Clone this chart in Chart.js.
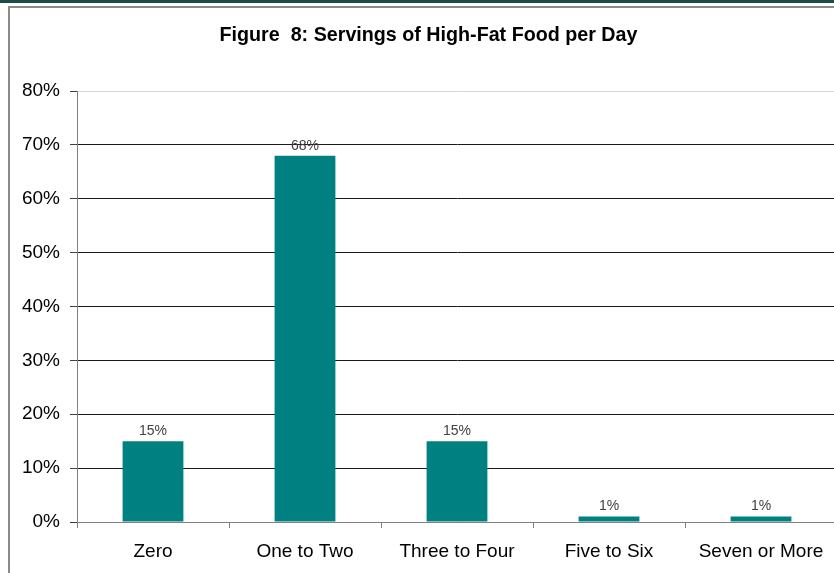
<!DOCTYPE html>
<html>
<head>
<meta charset="utf-8">
<script src="https://cdn.jsdelivr.net/npm/chart.js@4/dist/chart.umd.min.js"></script>
<style>
  html, body { margin: 0; padding: 0; background: #fff; overflow: hidden; }
  #frame { position: relative; width: 834px; height: 573px; overflow: hidden; }
  #topBar { position: absolute; left: 0; top: 0; width: 834px; height: 3px; background: #1f4a49; }
  #box { position: absolute; left: 8px; top: 6px; width: 830px; height: 570px;
         border-top: 2px solid #8a8a8a; border-left: 2px solid #8a8a8a; }
  #wrap { position: absolute; left: 0; top: 0; width: 837px; height: 573px; }
</style>
</head>
<body>
<div id="frame">
  <div id="box"></div>
  <div id="wrap"><canvas id="myBarChart" width="837" height="573"></canvas></div>
  <div id="topBar"></div>
</div>
<script>
// Data
let categories = ['Zero', 'One to Two', 'Three to Four', 'Five to Six', 'Seven or More'];
let percentages = [15, 68, 15, 1, 1];
let yTicks = [0, 10, 20, 30, 40, 50, 60, 70, 80];

let titleText = 'Figure  8: Servings of High-Fat Food per Day';

// draws the % value above each bar
let valueLabels = {
  id: 'valueLabels',
  afterDatasetsDraw(chart) {
    let ctx = chart.ctx;
    let meta = chart.getDatasetMeta(0);
    ctx.save();
    ctx.font = '14px Arial, sans-serif';
    ctx.fillStyle = '#404040';
    ctx.textAlign = 'center';
    ctx.textBaseline = 'bottom';
    meta.data.forEach(function (bar, i) {
      ctx.fillText(percentages[i] + '%', bar.x, bar.y - 3);
    });
    ctx.restore();
  },
};

let ctx = document.getElementById('myBarChart').getContext('2d');
let myBarChart = new Chart(ctx, {
  type: 'bar',
  data: {
    labels: categories,
    datasets: [
      {
        data: percentages,
        backgroundColor: '#008080',
        borderWidth: 0,
        barPercentage: 0.4,
        categoryPercentage: 1,
      },
    ],
  },
  options: {
    responsive: false,
    animation: false,
    devicePixelRatio: 1,
    layout: { padding: { left: 20, right: 0, top: 0, bottom: 0 } },
    plugins: {
      legend: { display: false },
      tooltip: { enabled: false },
      title: {
        display: true,
        text: titleText,
        color: '#000',
        font: { family: 'Arial, sans-serif', size: 19.7, weight: 'bold' },
        padding: { top: 24, bottom: 43.4 },
      },
    },
    scales: {
      x: {
        grid: {
          offset: true,
          drawOnChartArea: false,
          drawTicks: true,
          tickLength: 6,
          color: '#808080',
        },
        border: { color: '#808080', width: 1 },
        ticks: {
          color: '#000',
          padding: 12,
          maxRotation: 0,
          font: { family: 'Arial, sans-serif', size: 19 },
        },
        afterFit(scale) {
          scale.height = 51;
        },
      },
      y: {
        min: 0,
        max: 80,
        afterBuildTicks(scale) {
          scale.ticks = yTicks.map(function (v) {
            return { value: v };
          });
        },
        grid: {
          color: function (c) {
            return c.tick && c.tick.value === 80 ? '#d8d8d8' : '#1a1a1a';
          },
          tickColor: '#404040',
          tickLength: 7,
        },
        border: { color: '#808080', width: 1 },
        ticks: {
          color: '#000',
          padding: 10,
          font: { family: 'Arial, sans-serif', size: 19 },
          callback: function (v) {
            return v + '%';
          },
        },
        afterFit(scale) {
          scale.width = 57;
        },
      },
    },
  },
  plugins: [valueLabels],
});
</script>
</body>
</html>
